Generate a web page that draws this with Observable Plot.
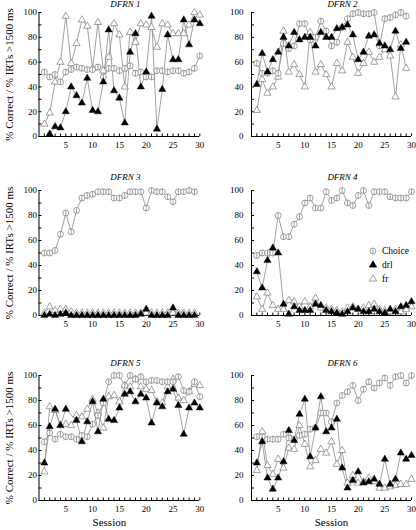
<!DOCTYPE html>
<html><head><meta charset="utf-8">
<script src="https://cdn.jsdelivr.net/npm/d3@7"></script>
<script src="https://cdn.jsdelivr.net/npm/@observablehq/plot@0.6"></script>
<style>
html,body{margin:0;padding:0;background:#fff;}
#root{position:relative;width:416px;height:530px;overflow:hidden;background:#fff;font-family:"Liberation Serif","Times New Roman",serif;}
#root svg.chart{position:absolute;overflow:visible;}
.legtxt{position:absolute;font-size:9.5px;line-height:10px;color:#000;}
.legsym{position:absolute;}
</style>
</head><body><div id="root"></div>
<script>
const sessions = d3.range(1, 31);
const titles = ["DFRN 1", "DFRN 2", "DFRN 3", "DFRN 4", "DFRN 5", "DFRN 6"];
const seriesNames = ["Choice", "drl", "fr"];
const yLabel = "% Correct / % IRTs >1500 ms";
const xLabel = "Session";
const yTicksMajor = [0, 20, 40, 60, 80, 100];
const yTicksMinor = d3.range(0, 101, 10);
const xTicksMajor = [5, 10, 15, 20, 25, 30];
const xTicksMinor = d3.range(1, 31);

const choice1 = [52,48,50,44,52,54,56,55,54,54,56,48,55,55,53,55,57,51,52,48,48,53,53,52,53,53,51,52,55,65];
const drl1 = [null,2,8,7,20,40,33,27,47,21,20,44,86,37,31,11,68,83,40,52,97,6,38,82,62,62,94,74,94,91];
const fr1 = [10,19,44,60,97,59,75,94,89,55,92,53,64,91,82,40,84,76,91,90,88,72,91,90,83,83,83,90,100,98];

const choice2 = [59,51,51,53,51,75,71,73,91,91,78,80,93,85,73,76,88,95,99,100,99,99,100,73,95,96,98,100,97,null];
const drl2 = [42,67,52,62,68,80,73,84,78,80,80,73,84,80,80,87,88,90,82,62,68,81,82,75,73,70,85,71,76,null];
const fr2 = [21,46,35,40,48,85,52,58,50,40,84,52,58,50,40,59,53,76,64,51,59,68,60,64,70,65,32,74,55,null];

const choice3 = [50,50,52,65,82,67,84,94,96,97,99,99,99,94,94,96,99,99,99,86,100,99,99,95,91,99,99,100,99,null];
const drl3 = [0,1,0,1,2,0,0,0,0,0,0,0,0,0,0,0,0,0,1,5,0,0,0,0,6,0,0,0,0,null];
const fr3 = [2,7,4,5,5,3,2,2,2,2,2,2,2,2,2,2,2,2,2,2,2,2,2,2,2,2,2,2,2,null];

const choice4 = [48,50,50,50,80,63,63,73,79,90,94,86,86,99,92,94,100,90,88,96,100,88,99,99,99,95,94,94,94,99];
const drl4 = [35,22,44,54,50,9,1,7,4,4,4,9,8,4,3,2,1,3,6,5,3,3,5,3,2,5,3,7,8,11];
const fr4 = [15,5,18,8,5,5,12,11,7,11,7,14,6,6,5,4,3,6,7,5,6,8,9,5,4,3,5,3,5,7];

const choice5 = [47,54,49,53,51,51,49,52,51,61,68,78,95,100,100,92,100,97,99,95,96,96,95,95,95,99,88,87,95,83];
const drl5 = [30,59,73,60,73,null,64,47,63,79,55,81,65,64,74,85,87,79,85,82,62,78,75,87,89,76,53,74,78,74];
const fr5 = [23,75,72,60,61,60,68,67,73,81,70,58,83,84,79,92,91,97,91,89,88,79,78,91,97,82,80,87,93,92];

const choice6 = [51,51,49,49,49,53,50,49,52,53,57,58,70,70,63,78,84,87,92,80,89,95,90,94,98,92,99,100,94,100];
const drl6 = [30,47,18,9,18,31,56,48,69,81,35,58,83,55,58,65,26,10,16,23,14,15,17,13,33,13,17,38,33,36];
const fr6 = [24,55,28,21,33,26,42,41,60,45,27,32,41,38,47,29,40,14,20,14,15,18,15,10,10,11,12,13,13,17];

const panelSeries = [
  [choice1, drl1, fr1], [choice2, drl2, fr2],
  [choice3, drl3, fr3], [choice4, drl4, fr4],
  [choice5, drl5, fr5], [choice6, drl6, fr6]
];

const cols = [
  {left: 0, width: 208, ml: 38.5, mr: 8.7, pad: 2, titleDx: 6, sessDx: -10},
  {left: 208, width: 208, ml: 43, mr: 5, pad: 8, titleDx: 11, sessDx: 0}
];
const rowsG = [
  {top: 0, height: 168, mt: 12, mb: 32, titleDy: -8},
  {top: 168, height: 180, mt: 22, mb: 33, titleDy: -13},
  {top: 348, height: 182, mt: 27, mb: 30, titleDy: -12}
];

const lineColor = "#8a8a8a";
const markColor = "#7a7a7a";
const circleBar = {
  draw(ctx, size) {
    const r = Math.sqrt(size / Math.PI);
    ctx.moveTo(r, 0);
    ctx.arc(0, 0, r, 0, 2 * Math.PI);
    ctx.moveTo(0, -r);
    ctx.lineTo(0, r);
  }
};

const root = document.getElementById("root");

panelSeries.forEach(([choice, drl, fr], i) => {
  const col = cols[i % 2], row = rowsG[Math.floor(i / 2)];
  const data = sessions.map((s, j) => ({s, choice: choice[j], drl: drl[j], fr: fr[j]}));
  const marks = [
    Plot.ruleX([0], {stroke: "#000", strokeWidth: 1}),
    Plot.ruleY([0], {stroke: "#000", strokeWidth: 1}),
    Plot.axisY({ticks: yTicksMinor, tickSize: -3, fill: "none", label: null, stroke: "#000"}),
    Plot.axisY({ticks: yTicksMajor, tickSize: 0, tickPadding: col.pad, label: null, fill: "#000", fontSize: 9}),
    Plot.axisX({ticks: xTicksMinor, tickSize: -2.5, fill: "none", label: null, stroke: "#000"}),
    Plot.axisX({ticks: xTicksMajor, tickSize: 0, tickPadding: 5, label: null, fill: "#000", fontSize: 9}),
    Plot.text([titles[i]], {frameAnchor: "top", dy: row.titleDy, dx: col.titleDx, fontStyle: "italic", fontSize: 9, lineAnchor: "middle", fill: "#000"}),
    Plot.line(data, {x: "s", y: "fr", filter: d => d.fr != null, stroke: lineColor, strokeWidth: 0.8}),
    Plot.line(data, {x: "s", y: "choice", filter: d => d.choice != null, stroke: lineColor, strokeWidth: 0.8}),
    Plot.line(data, {x: "s", y: "drl", filter: d => d.drl != null, stroke: lineColor, strokeWidth: 0.8}),
    Plot.dot(data, {x: "s", y: "fr", symbol: "triangle", r: 2.7, fill: "#fff", stroke: markColor, strokeWidth: 0.7}),
    Plot.dot(data, {x: "s", y: "choice", symbol: circleBar, r: 3, fill: "#fff", stroke: markColor, strokeWidth: 0.7}),
    Plot.dot(data, {x: "s", y: "drl", symbol: "triangle", r: 2.7, fill: "#000", stroke: "#000", strokeWidth: 0.4})
  ];
  if (i % 2 === 0) {
    marks.push(Plot.text([yLabel], {frameAnchor: "left", rotate: -90, dx: -30, fontSize: 11, lineAnchor: "middle", textAnchor: "middle", fill: "#000"}));
  }
  if (i >= 4) {
    marks.push(Plot.text([xLabel], {frameAnchor: "bottom", dy: 22, dx: col.sessDx, fontSize: 11, lineAnchor: "middle", fill: "#000"}));
  }
  const svg = Plot.plot({
    width: col.width, height: row.height,
    marginLeft: col.ml, marginRight: col.mr, marginTop: row.mt, marginBottom: row.mb,
    x: {domain: [0, 30]},
    y: {domain: [0, 100]},
    style: {fontFamily: '"Liberation Serif", "Times New Roman", serif', fontSize: "9px", background: "transparent", color: "#000"},
    marks
  });
  svg.classList.add("chart");
  svg.style.left = col.left + "px";
  svg.style.top = row.top + "px";
  root.appendChild(svg);
});

// Legend (in DFRN 4 panel)
const legendSymbols = [
  {sym: circleBar, fill: "#fff", stroke: markColor, size: Math.PI * 9},
  {sym: d3.symbolTriangle, fill: "#000", stroke: "#000", size: Math.PI * 2.7 * 2.7},
  {sym: d3.symbolTriangle, fill: "#fff", stroke: markColor, size: Math.PI * 2.7 * 2.7}
];
const legendY = [251, 265, 279];
seriesNames.forEach((name, k) => {
  const s = d3.create("svg").attr("class", "legsym").attr("width", 12).attr("height", 12)
    .style("left", (373 - 6) + "px").style("top", (legendY[k] - 6) + "px");
  s.append("path").attr("transform", "translate(6,6)")
    .attr("d", d3.symbol(legendSymbols[k].sym, legendSymbols[k].size)())
    .attr("fill", legendSymbols[k].fill).attr("stroke", legendSymbols[k].stroke).attr("stroke-width", 0.7);
  root.appendChild(s.node());
  const t = document.createElement("div");
  t.className = "legtxt";
  t.textContent = name;
  t.style.left = "382px";
  t.style.top = (legendY[k] - 5.5) + "px";
  root.appendChild(t);
});
</script>
</body></html>
